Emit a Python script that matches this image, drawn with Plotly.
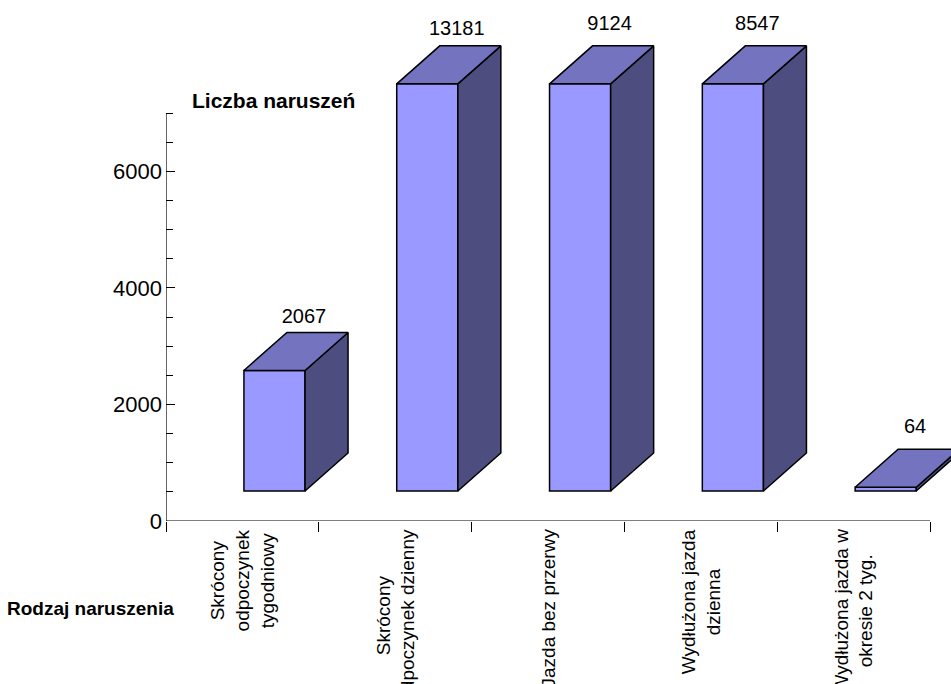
import plotly.graph_objects as go

categories = ["Skrócony<br>odpoczynek<br>tygodniowy", "Skrócony<br>odpoczynek dzienny", "Jazda bez przerwy",
              "Wydłużona jazda<br>dzienna", "Wydłużona jazda w<br>okresie 2 tyg."]
values = [2067, 13181, 9124, 8547, 64]
y_major = [0, 2000, 4000, 6000]
y_minor = [500, 1000, 1500, 2500, 3000, 3500, 4500, 5000, 5500, 6500, 7000]

W, H = 951, 684
L, B = 166, 521           # axis origin in window pixels
ux = (930 - 166) / 5      # px per category
uy = (521 - 113) / 7000   # px per unit
FONT = "Liberation Sans, Arial, sans-serif"
AX = 1.2
EDGE = 1.5

floor = 30 / uy           # bars float above the axis
cap = 6985                # bars are truncated at the axis maximum
bar_off, bar_w = 0.51, 0.40
dx, dy = 43 / ux, 38 / uy
label_gap = [15, 16, 21, 21, 21]
label_shift = [60, 60, 60, 55, 60]

plot_w, plot_h = W - L, B

lefts = [i + bar_off for i in range(len(values))]
tops = [floor + min(v, cap) for v in values]

fig = go.Figure()
fig.add_trace(go.Bar(x=[l + bar_w / 2 for l in lefts], y=[t - floor for t in tops], base=floor, width=bar_w,
                     marker=dict(color="#9999FF", line=dict(color="#000000", width=EDGE)),
                     hoverinfo="skip", showlegend=False))

top_x, top_y, side_x, side_y = [], [], [], []
for l, t in zip(lefts, tops):
    r = l + bar_w
    top_x += [l, r, r + dx, l + dx, l, None]
    top_y += [t, t, t + dy, t + dy, t, None]
    side_x += [r, r + dx, r + dx, r, r, None]
    side_y += [floor, floor + dy, t + dy, t, floor, None]

fig.add_trace(go.Scatter(x=side_x, y=side_y, mode="lines", fill="toself", fillcolor="#4D4D80",
                         line=dict(color="#000000", width=EDGE), cliponaxis=False, hoverinfo="skip", showlegend=False))
fig.add_trace(go.Scatter(x=top_x, y=top_y, mode="lines", fill="toself", fillcolor="#7373BF",
                         line=dict(color="#000000", width=EDGE), cliponaxis=False, hoverinfo="skip", showlegend=False))
fig.add_trace(go.Scatter(x=[l + s / ux for l, s in zip(lefts, label_shift)],
                         y=[t + dy + g / uy for t, g in zip(tops, label_gap)],
                         mode="text", text=[str(v) for v in values], textposition="middle center",
                         textfont=dict(family=FONT, size=20, color="#000000"),
                         cliponaxis=False, hoverinfo="skip", showlegend=False))
# axis lines stop at the last tick, while the plot area runs on for the 3D faces
fig.add_trace(go.Scatter(x=[0, 0, len(values)], y=[7000, 0, 0], mode="lines",
                         line=dict(color="#000000", width=AX), cliponaxis=False, hoverinfo="skip", showlegend=False))


def px(p):
    return (p - L) / plot_w


def py(p):
    return (B - p) / plot_h


annotations = [
    dict(x=i + 0.5, xref="x", y=py(527), yref="paper", text=c, textangle=-90, showarrow=False,
         xanchor="center", yanchor="top", align="center", font=dict(family=FONT, size=19, color="#000000"))
    for i, c in enumerate(categories)
]
annotations += [
    dict(x=px(273), xref="paper", y=py(100), yref="paper", text="<b>Liczba naruszeń</b>", showarrow=False,
         xanchor="center", yanchor="middle", font=dict(family=FONT, size=21, color="#000000")),
    dict(x=px(90), xref="paper", y=py(608), yref="paper", text="<b>Rodzaj naruszenia</b>", showarrow=False,
         xanchor="center", yanchor="middle", font=dict(family=FONT, size=19, color="#000000")),
]

fig.update_layout(
    width=W, height=H, autosize=False, margin=dict(l=L, r=0, t=0, b=H - plot_h, pad=0),
    paper_bgcolor="#FFFFFF", plot_bgcolor="#FFFFFF", showlegend=False, annotations=annotations,
    xaxis=dict(range=[0, plot_w / ux], tickvals=list(range(len(values) + 1)), ticktext=[""] * (len(values) + 1),
               ticks="outside", ticklen=10, tickwidth=AX, tickcolor="#000000", showline=False, showgrid=False,
               zeroline=False, automargin=False),
    yaxis=dict(range=[0, plot_h / uy], tickvals=y_major, ticks="inside", ticklen=9, tickwidth=AX, tickcolor="#000000",
               showline=False, showgrid=False, zeroline=False, automargin=False, ticklabelstandoff=3,
               tickfont=dict(family=FONT, size=22, color="#000000"), tickformat="d",
               minor=dict(tickvals=y_minor, ticks="inside", ticklen=7, tickwidth=1, tickcolor="#000000", showgrid=False)),
)
fig.write_html("out.html", default_width="951px", default_height="684px", config={"displayModeBar": False},
               post_script="document.body.style.margin='0';document.documentElement.style.overflow='hidden';")
